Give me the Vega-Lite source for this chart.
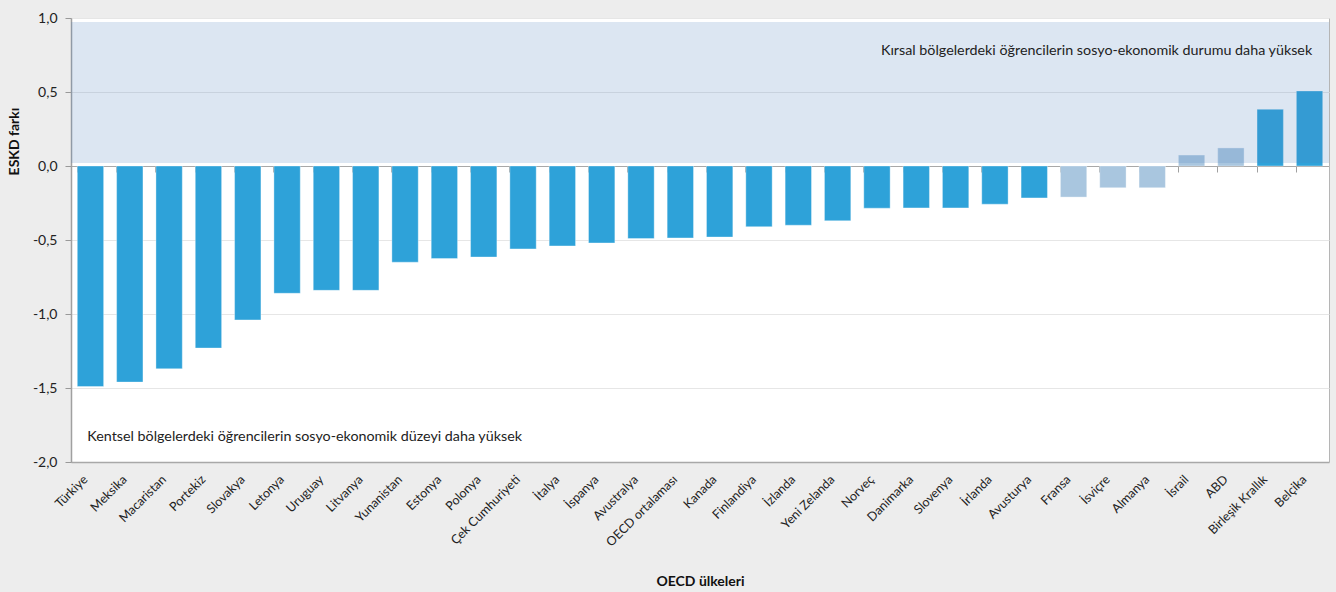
{
  "$schema": "https://vega.github.io/schema/vega-lite/v6.json",
  "width": 1258,
  "height": 444,
  "autosize": {"type": "none"},
  "padding": {"left": 71, "top": 18, "right": 7, "bottom": 130},
  "background": "#ededed",
  "config": {
    "view": {"fill": "white", "stroke": "#b5b5b5", "strokeWidth": 1},
    "font": "Lato",
    "axis": {"labelFont": "Lato", "titleFont": "Lato", "labelColor": "#222222", "titleColor": "#111111"}
  },
  "data": {
    "values": [
      {"country": "Türkiye", "value": -1.49, "sig": "yes"},
      {"country": "Meksika", "value": -1.46, "sig": "yes"},
      {"country": "Macaristan", "value": -1.37, "sig": "yes"},
      {"country": "Portekiz", "value": -1.23, "sig": "yes"},
      {"country": "Slovakya", "value": -1.04, "sig": "yes"},
      {"country": "Letonya", "value": -0.86, "sig": "yes"},
      {"country": "Uruguay", "value": -0.84, "sig": "yes"},
      {"country": "Litvanya", "value": -0.84, "sig": "yes"},
      {"country": "Yunanistan", "value": -0.65, "sig": "yes"},
      {"country": "Estonya", "value": -0.625, "sig": "yes"},
      {"country": "Polonya", "value": -0.615, "sig": "yes"},
      {"country": "Çek Cumhuriyeti", "value": -0.56, "sig": "yes"},
      {"country": "İtalya", "value": -0.54, "sig": "yes"},
      {"country": "İspanya", "value": -0.52, "sig": "yes"},
      {"country": "Avustralya", "value": -0.49, "sig": "yes"},
      {"country": "OECD ortalaması", "value": -0.486, "sig": "yes"},
      {"country": "Kanada", "value": -0.48, "sig": "yes"},
      {"country": "Finlandiya", "value": -0.41, "sig": "yes"},
      {"country": "İzlanda", "value": -0.40, "sig": "yes"},
      {"country": "Yeni Zelanda", "value": -0.37, "sig": "yes"},
      {"country": "Norveç", "value": -0.285, "sig": "yes"},
      {"country": "Danimarka", "value": -0.283, "sig": "yes"},
      {"country": "Slovenya", "value": -0.283, "sig": "yes"},
      {"country": "İrlanda", "value": -0.258, "sig": "yes"},
      {"country": "Avusturya", "value": -0.216, "sig": "yes"},
      {"country": "Fransa", "value": -0.21, "sig": "no"},
      {"country": "İsviçre", "value": -0.147, "sig": "no"},
      {"country": "Almanya", "value": -0.147, "sig": "no"},
      {"country": "İsrail", "value": 0.074, "sig": "no"},
      {"country": "ABD", "value": 0.122, "sig": "no"},
      {"country": "Birleşik Krallık", "value": 0.383, "sig": "yes"},
      {"country": "Belçika", "value": 0.507, "sig": "yes"}
    ]
  },
  "resolve": {"axis": {"x": "independent"}},
  "layer": [
    {
      "mark": {"type": "bar", "stroke": "#ffffff", "strokeOpacity": 0.35, "strokeWidth": 1},
      "encoding": {
        "x": {
          "field": "country", "type": "nominal", "sort": null,
          "scale": {"paddingInner": 0.33, "paddingOuter": 0.16},
          "axis": {
            "orient": "bottom",
            "title": "OECD ülkeleri",
            "titleFontSize": 14, "titleFontWeight": "bold",
            "titleX": 629, "titleY": 119, "titleBaseline": "middle",
            "labelAngle": -45, "labelAlign": "right", "labelBaseline": "middle",
            "labelFontSize": 12.5, "labelPadding": 15, "labelOffset": -5,
            "ticks": false, "domain": true, "domainColor": "#a8a8a8", "domainWidth": 1.5,
            "grid": false
          }
        },
        "y": {
          "field": "value", "type": "quantitative",
          "scale": {"domain": [-2, 1], "nice": false},
          "axis": {
            "title": "ESKD farkı",
            "titleFontSize": 14, "titleFontWeight": "bold",
            "titleX": -57, "titleY": 123, "titleAngle": -90, "titleAlign": "center", "titleBaseline": "middle",
            "values": [-2, -1.5, -1, -0.5, 0, 0.5, 1],
            "labelExpr": "(datum.value < 0 ? '-' : '') + replace(format(abs(datum.value), '.1f'), '.', ',')",
            "labelFontSize": 14, "labelPadding": 8,
            "tickSize": 6, "tickColor": "#999999",
            "domainColor": "#a0a0a0", "domainWidth": 1.5,
            "grid": true, "gridColor": "#e6e6e6"
          }
        },
        "color": {
          "field": "sig", "type": "nominal",
          "scale": {"domain": ["yes", "no"], "range": ["#2ea2d9", "#a9c6df"]},
          "legend": null
        }
      }
    },
    {
      "mark": {"type": "bar", "opacity": 0},
      "encoding": {
        "x": {
          "field": "country", "type": "nominal", "sort": null,
          "axis": {
            "orient": "bottom", "offset": -296,
            "title": null, "labels": false,
            "ticks": true, "tickSize": 6, "tickColor": "#a0a0a0", "bandPosition": 0,
            "domain": true, "domainColor": "#a8a8a8", "domainWidth": 1,
            "grid": false
          }
        },
        "y": {"field": "value", "type": "quantitative"}
      }
    },
    {
      "data": {"values": [{"zone": "rural"}]},
      "mark": {"type": "rect", "color": "#4f81bd", "opacity": 0.2},
      "encoding": {
        "y": {"datum": 0.973},
        "y2": {"datum": 0.02}
      }
    },
    {
      "data": {"values": [{"label": "Kırsal bölgelerdeki öğrencilerin sosyo-ekonomik durumu daha yüksek"}]},
      "mark": {"type": "text", "align": "right", "baseline": "middle", "fontSize": 14.3, "color": "#222222"},
      "encoding": {
        "x": {"datum": "Belçika", "bandPosition": 0.6, "axis": null},
        "y": {"datum": 0.78},
        "text": {"field": "label"}
      }
    },
    {
      "data": {"values": [{"label": "Kentsel bölgelerdeki öğrencilerin sosyo-ekonomik düzeyi daha yüksek"}]},
      "mark": {"type": "text", "align": "left", "baseline": "middle", "fontSize": 14.3, "color": "#222222"},
      "encoding": {
        "x": {"datum": "Türkiye", "bandPosition": 0.38, "axis": null},
        "y": {"datum": -1.83},
        "text": {"field": "label"}
      }
    }
  ]
}
